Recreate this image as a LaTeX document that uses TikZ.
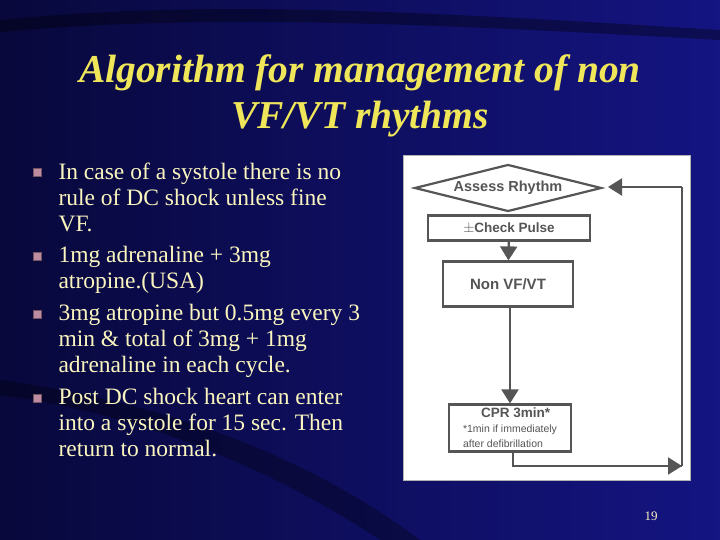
\documentclass[tikz,border=0pt]{standalone}
\usepackage{fontspec}
\setmainfont{Liberation Serif}
\newfontfamily\arial{Liberation Sans}
\usetikzlibrary{shapes.geometric,arrows.meta,calc}
\definecolor{bgA}{RGB}{8,8,60}
\definecolor{bgB}{RGB}{20,20,130}
\definecolor{ttl}{RGB}{240,230,90}
\definecolor{txt}{RGB}{250,245,190}
\definecolor{fc}{RGB}{85,85,85}
\definecolor{bul}{RGB}{190,140,160}
\tikzset{
  fbox/.style={draw=fc,line width=2.2pt,fill=white,font=\arial\bfseries\fontsize{13.5}{15}\selectfont,text=fc},
  farr/.style={draw=fc,line width=2.2pt,-{Triangle[length=14pt,width=17pt]}},
  body/.style={anchor=west,text=txt,font=\fontsize{23.5}{26}\selectfont},
  bulletsq/.style={fill=bul,draw=bul!60!black,minimum size=8pt,inner sep=0pt}
}
\begin{document}
\begin{tikzpicture}[x=1pt,y=-1pt]
\useasboundingbox (0,0) rectangle (720,540);
\shade[left color=bgA,right color=bgB] (0,0) rectangle (720,540);
\fill[black,opacity=0.35] (0,20) .. controls (200,0) and (400,10) .. (720,30) -- (720,40) .. controls (400,22) and (200,14) .. (0,32) -- cycle;
\fill[black,opacity=0.3] (0,380) .. controls (150,400) and (300,450) .. (420,540) -- (380,540) .. controls (260,460) and (120,410) .. (0,395) -- cycle;
% title
\node[text=ttl,font=\bfseries\itshape\fontsize{39.5}{46}\selectfont,align=center] (title) at (360,96) {Algorithm for management of non\\VF/VT rhythms};
% bullets
\foreach \y/\n in {172/b1,256/b2,314/b3,398/b4}{\node[bulletsq] (\n) at (37,\y) {};}
\node[body,align=left,anchor=north west] (t1) at (55,159) {In case of a systole there is no\\rule of DC shock unless fine\\VF.};
\node[body,align=left,anchor=north west] (t2) at (55,243) {1mg adrenaline + 3mg\\atropine.(USA)};
\node[body,align=left,anchor=north west] (t3) at (55,301) {3mg atropine but 0.5mg every 3\\min \& total of 3mg + 1mg\\adrenaline in each cycle.};
\node[body,align=left,anchor=north west] (t4) at (55,385) {Post DC shock heart can enter\\into a systole for 15 sec. Then\\return to normal.};
% page number
\node[text=txt,font=\fontsize{13}{14}\selectfont] (pg) at (651,516) {19};
% flowchart panel
\fill[white] (403,155) rectangle (690,480);
\draw[gray!60,line width=0.6pt] (403,155) rectangle (690,480);
\node[fbox,diamond,aspect=4,minimum width=187pt,minimum height=47pt,inner sep=0pt,font=\arial\bfseries\fontsize{14.5}{15}\selectfont] (ar) at (508,188) {Assess Rhythm};
\node[fbox,minimum width=162pt,minimum height=25pt,inner sep=0pt] (cp) at (509,228) {$\pm$Check Pulse};
\node[fbox,minimum width=130pt,minimum height=45pt,font=\arial\bfseries\fontsize{15}{16}\selectfont] (nv) at (508,284) {Non VF/VT};
\node[fbox,minimum width=122pt,minimum height=47pt,inner sep=2pt,align=left] (cpr) at (510,428) {\hspace*{18pt}CPR 3min*\\[0pt]{\mdseries\fontsize{10.5}{11}\selectfont *1min if immediately}\\{\mdseries\fontsize{10.5}{11}\selectfont after defibrillation}};
\coordinate (c1) at (513,466);
\coordinate (c2) at (682,466);
\coordinate (c3) at (682,187);
\coordinate (c4) at (608,187);
\draw[farr] (cp) -- (nv);
\draw[farr] (nv.south -| cpr) -- (cpr);
\draw[fc,line width=2.2pt] (cpr.south -| c1) -- (c1) -- (c2);
\draw[farr] (c1) -- (c2);
\draw[fc,line width=2.2pt] (c2) -- (c3);
\draw[farr] (c3) -- (c4);
\end{tikzpicture}
\end{document}
